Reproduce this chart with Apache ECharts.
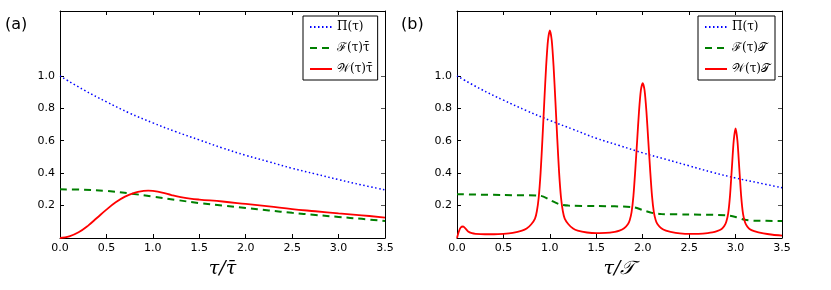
<!DOCTYPE html>
<html><head><meta charset="utf-8">
<script src="https://cdn.jsdelivr.net/npm/echarts@6/dist/echarts.min.js"></script>
<style>html,body{margin:0;padding:0;background:#fff}#c{width:831px;height:290px}</style>
</head><body><div id="c"></div>
<script>
// ---- data ----
const xTickLabels = ['0.0','0.5','1.0','1.5','2.0','2.5','3.0','3.5'];
const yTickValues = [0.2, 0.4, 0.6, 0.8, 1.0];

// panel (a)
const piA_x = [0,0.25,0.5,0.75,1.0,1.25,1.5,1.75,2.0,2.25,2.5,2.75,3.0,3.25,3.5];
const piA_y = [1.0,0.915,0.84,0.77,0.71,0.655,0.605,0.555,0.51,0.47,0.43,0.395,0.36,0.327,0.297];
const fA_x = [0,0.25,0.5,0.75,1.0,1.25,1.5,1.75,2.0,2.25,2.5,2.75,3.0,3.25,3.5];
const fA_y = [0.30,0.298,0.29,0.275,0.255,0.235,0.215,0.2,0.185,0.17,0.155,0.142,0.13,0.118,0.105];
const wA_x = [0,0.1,0.2,0.3,0.4,0.5,0.6,0.7,0.8,0.9,0.95,1.0,1.1,1.2,1.3,1.4,1.5,1.75,2.0,2.25,2.5,2.75,3.0,3.25,3.5];
const wA_y = [0,0.01,0.035,0.075,0.125,0.175,0.22,0.255,0.278,0.29,0.292,0.29,0.28,0.265,0.252,0.243,0.237,0.225,0.21,0.195,0.178,0.165,0.152,0.14,0.126];

// panel (b)
const piB_x = [0,0.25,0.5,0.75,1.0,1.25,1.5,1.75,2.0,2.25,2.5,2.75,3.0,3.25,3.5];
const piB_y = [1.0,0.92,0.85,0.785,0.725,0.67,0.615,0.57,0.525,0.485,0.445,0.405,0.37,0.34,0.31];
const fB_x = [0,0.5,0.9,1.0,1.1,1.2,1.5,1.9,2.0,2.1,2.2,2.5,2.9,3.0,3.1,3.2,3.5];
const fB_y = [0.27,0.265,0.26,0.235,0.209,0.2,0.197,0.19,0.172,0.155,0.148,0.145,0.14,0.13,0.112,0.107,0.105];
const wB_x = [0,0.02,0.04,0.065,0.09,0.12,0.16,0.2,0.3,0.4,0.5,0.6,0.7,0.75,0.8,0.84,0.86,0.88,0.9,0.92,0.94,0.96,0.98,1.0,1.02,1.04,1.06,1.08,1.1,1.12,1.14,1.16,1.2,1.25,1.3,1.4,1.5,1.6,1.7,1.75,1.8,1.84,1.86,1.88,1.9,1.92,1.94,1.96,1.98,2.0,2.02,2.04,2.06,2.08,2.1,2.12,2.14,2.16,2.2,2.25,2.3,2.4,2.5,2.6,2.7,2.75,2.8,2.85,2.88,2.9,2.92,2.94,2.96,2.98,3.0,3.02,3.04,3.06,3.08,3.1,3.12,3.15,3.2,3.3,3.4,3.5];
const wB_y = [0,0.04,0.065,0.071,0.06,0.04,0.03,0.026,0.023,0.023,0.026,0.032,0.045,0.058,0.085,0.12,0.165,0.25,0.40,0.61,0.84,1.06,1.22,1.28,1.22,1.06,0.84,0.61,0.40,0.25,0.165,0.12,0.085,0.058,0.045,0.034,0.03,0.031,0.038,0.045,0.06,0.085,0.11,0.16,0.26,0.42,0.60,0.78,0.91,0.955,0.91,0.78,0.60,0.42,0.26,0.16,0.11,0.085,0.06,0.045,0.038,0.029,0.025,0.026,0.03,0.034,0.042,0.055,0.075,0.1,0.15,0.26,0.43,0.6,0.676,0.6,0.43,0.26,0.15,0.1,0.075,0.055,0.042,0.028,0.02,0.015];

const namesA = ['Π(τ)', 'ℱ(τ)τ̄', '𝒲(τ)τ̄'];
const namesB = ['Π(τ)', 'ℱ(τ)𝒯', '𝒲(τ)𝒯'];

// ---- chart ----
const zip = (xs, ys) => xs.map((x, i) => [x, ys[i]]);
const chart = echarts.init(document.getElementById('c'), null, {renderer: 'canvas'});
const font = 'DejaVu Sans';
const grids = [
  {left: 60, top: 11, width: 325, height: 227},
  {left: 457, top: 11, width: 325, height: 227}
];
const xAxes = [], yAxes = [];
[0, 1].forEach(g => {
  const xtitle = g === 0 ? 'τ/τ̄' : 'τ/𝒯';
  xAxes.push({
    type: 'value', gridIndex: g, min: 0, max: 3.5, interval: 0.5, position: 'bottom',
    axisLine: {show: true, onZero: false, lineStyle: {color: '#000', width: 1}},
    axisTick: {show: true, inside: true, length: 4, lineStyle: {color: '#000'}},
    axisLabel: {color: '#000', fontSize: 11, fontFamily: font, margin: 5,
      formatter: v => xTickLabels[Math.round(v / 0.5)]},
    splitLine: {show: false},
    name: xtitle, nameLocation: 'middle', nameGap: 22,
    nameTextStyle: {color: '#000', fontSize: 19, fontFamily: 'DejaVu Serif', fontStyle: 'italic'}
  });
  xAxes.push({
    type: 'value', gridIndex: g, min: 0, max: 3.5, interval: 0.5, position: 'top',
    axisLine: {show: true, onZero: false, lineStyle: {color: '#000', width: 1}},
    axisTick: {show: true, inside: true, length: 4, lineStyle: {color: '#000'}},
    axisLabel: {show: false}, splitLine: {show: false}
  });
  yAxes.push({
    type: 'value', gridIndex: g, min: 0, max: 1.4, interval: 0.2, position: 'left',
    axisLine: {show: true, onZero: false, lineStyle: {color: '#000', width: 1}},
    axisTick: {show: true, inside: true, length: 4, customValues: yTickValues, lineStyle: {color: '#000'}},
    axisLabel: {color: '#000', fontSize: 11, fontFamily: font, margin: 5, customValues: yTickValues,
      formatter: v => v.toFixed(1)},
    splitLine: {show: false}
  });
  yAxes.push({
    type: 'value', gridIndex: g, min: 0, max: 1.4, interval: 0.2, position: 'right',
    axisLine: {show: true, onZero: false, lineStyle: {color: '#000', width: 1}},
    axisTick: {show: true, inside: true, length: 4, customValues: yTickValues, lineStyle: {color: '#555'}},
    axisLabel: {show: false}, splitLine: {show: false}
  });
});

function mk(name, g, data, color, type, width, smooth) {
  return {
    name, type: 'line', xAxisIndex: g * 2, yAxisIndex: g * 2, data,
    symbol: 'none', smooth, animation: false,
    lineStyle: {color, type, width}, itemStyle: {color}
  };
}
const dotted = [1.5, 2.5];
const dashed = [7, 5];
const series = [
  mk(namesA[0], 0, zip(piA_x, piA_y), '#0000ff', dotted, 1.5, 0.4),
  mk(namesA[1], 0, zip(fA_x, fA_y), '#007f00', dashed, 2, 0.4),
  mk(namesA[2], 0, zip(wA_x, wA_y), '#ff0000', 'solid', 1.8, 0.4),
  mk(namesB[0], 1, zip(piB_x, piB_y), '#0000ff', dotted, 1.5, 0.4),
  mk(namesB[1], 1, zip(fB_x, fB_y), '#007f00', dashed, 2, 0.3),
  mk(namesB[2], 1, zip(wB_x, wB_y), '#ff0000', 'solid', 1.8, 0.25)
];
const legendBase = {
  orient: 'vertical', top: 16, borderColor: '#000', borderWidth: 1,
  padding: [5, 5, 5, 6], itemWidth: 22, itemHeight: 10, itemGap: 9, backgroundColor: '#fff',
  itemStyle: {opacity: 0},
  textStyle: {color: '#000', fontSize: 12, fontFamily: 'DejaVu Serif'}, selectedMode: false
};
chart.setOption({
  backgroundColor: '#fff',
  animation: false,
  title: [
    {text: '(a)', left: 0, top: 12, textStyle: {fontSize: 16, fontWeight: 'normal', fontFamily: font, color: '#000'}},
    {text: '(b)', left: 396, top: 12, textStyle: {fontSize: 16, fontWeight: 'normal', fontFamily: font, color: '#000'}}
  ],
  grid: grids,
  xAxis: xAxes,
  yAxis: yAxes,
  legend: [
    Object.assign({}, legendBase, {left: 303, data: namesA}),
    Object.assign({}, legendBase, {left: 698, data: namesB})
  ],
  series
});
</script></body></html>
